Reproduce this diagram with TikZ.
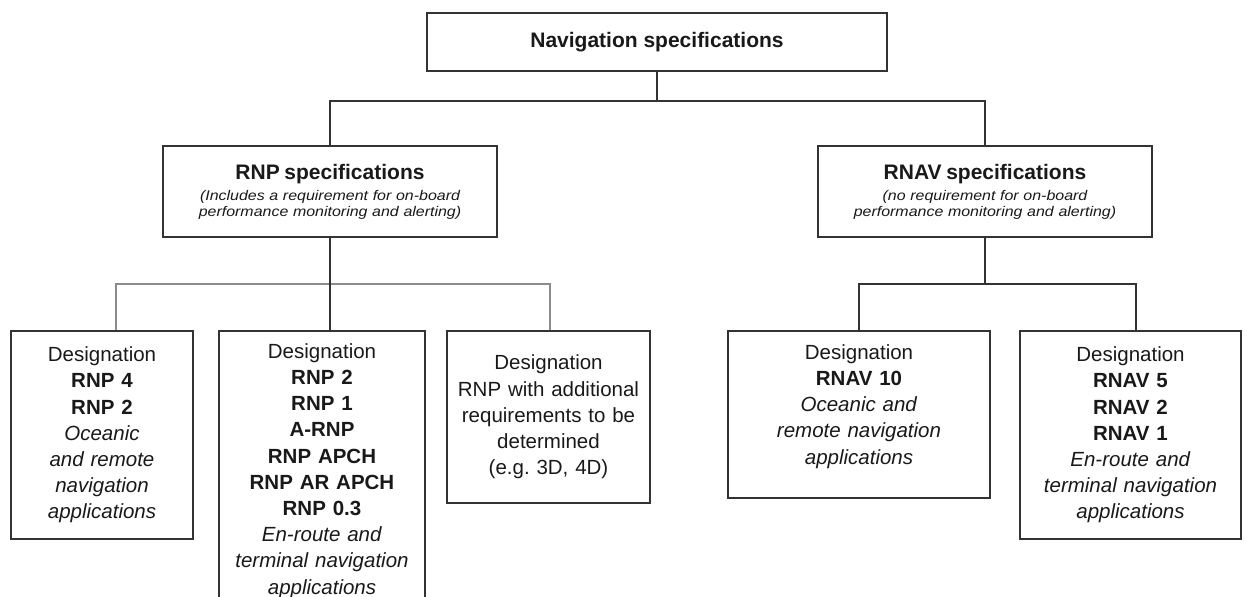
\documentclass[tikz,border=0pt]{standalone}
\usepackage{fontspec}
\setmainfont{Liberation Sans}
\newfontfamily\subfont[FakeStretch=1.14]{Liberation Sans}
\usepackage{tikz}
\usetikzlibrary{calc}
\frenchspacing

\newcommand{\titlefont}{\normalfont\bfseries\fontsize{21}{24}\selectfont}
\newcommand{\notefont}{\subfont\itshape\fontsize{14}{15.5}\selectfont}
\newcommand{\desigfont}{\fontsize{20.5}{26.2}\selectfont}

\begin{document}
\begin{tikzpicture}[x=1pt, y=-1pt,
	specbox/.style={draw=black!80, line width=1.8pt, align=center, text=black!90, inner xsep=4pt},
	desigbox/.style={specbox, font=\desigfont, anchor=north},
	link/.style={draw=black!80, line width=1.5pt},
	greylink/.style={draw=black!45, line width=1.5pt}]
	\useasboundingbox (0,0) rectangle (1245,597);
	\clip (0,0) rectangle (1245,597);

	\node [specbox, minimum width=460, minimum height=58, font=\titlefont] (navspec) at (657,42) {Navigation specifications};

	\node [specbox, minimum width=334, minimum height=91, text width=320, font=\notefont] (rnp) at (330,191.5)
		{{\titlefont RNP specifications}\\[6pt](Includes a requirement for on-board\\performance monitoring and alerting)};
	\node [specbox, minimum width=334, minimum height=91, text width=320, font=\notefont] (rnav) at (985,191.5)
		{{\titlefont RNAV specifications}\\[6pt](no requirement for on-board\\performance monitoring and alerting)};

	\node [desigbox, minimum width=182, minimum height=208, text width=174] (rnpa) at (102,330)
		{Designation\\\textbf{RNP 4}\\\textbf{RNP 2}\\\textit{Oceanic}\\\textit{and remote}\\\textit{navigation}\\\textit{applications}};
	\node [desigbox, minimum width=206, minimum height=280, text width=198] (rnpb) at (322,330)
		{Designation\\\textbf{RNP 2}\\\textbf{RNP 1}\\\textbf{A-RNP}\\\textbf{RNP APCH}\\\textbf{RNP AR APCH}\\\textbf{RNP 0.3}\\\textit{En-route and}\\\textit{terminal navigation}\\\textit{applications}};
	\node [desigbox, minimum width=203, minimum height=172, text width=195] (rnpc) at (548.5,330)
		{Designation\\RNP with additional\\requirements to be\\determined\\(e.g. 3D, 4D)};

	\node [desigbox, minimum width=262, minimum height=167, text width=254] (rnava) at (859,330)
		{Designation\\\textbf{RNAV 10}\\\textit{Oceanic and}\\\textit{remote navigation}\\\textit{applications}\\[-6pt]\mbox{}};
	\node [desigbox, minimum width=221, minimum height=208, text width=213] (rnavb) at (1130.5,330)
		{Designation\\\textbf{RNAV 5}\\\textbf{RNAV 2}\\\textbf{RNAV 1}\\\textit{En-route and}\\\textit{terminal navigation}\\\textit{applications}};

	% bus lines
	\coordinate (topbus) at ($(navspec.south)!0.4!(navspec.south |- rnp.north)$);
	\coordinate (rnpbus) at ($(rnp.south)!0.5!(rnp.south |- rnpb.north)$);
	\coordinate (rnavbus) at ($(rnav.south)!0.5!(rnav.south |- rnava.north)$);

	\draw [link] (navspec.south) -- (topbus);
	\draw [link] (rnp.north) |- (topbus) -| (rnav.north);

	\draw [greylink] ([xshift=14pt]rnpa.north) |- (rnpbus) -| ([xshift=1.5pt]rnpc.north);
	\draw [link] (rnp.south) -- (rnp.south |- rnpb.north);

	\draw [link] (rnav.south) -- (rnavbus);
	\draw [link] (rnava.north) |- (rnavbus) -| ([xshift=5.5pt]rnavb.north);
\end{tikzpicture}
\end{document}
